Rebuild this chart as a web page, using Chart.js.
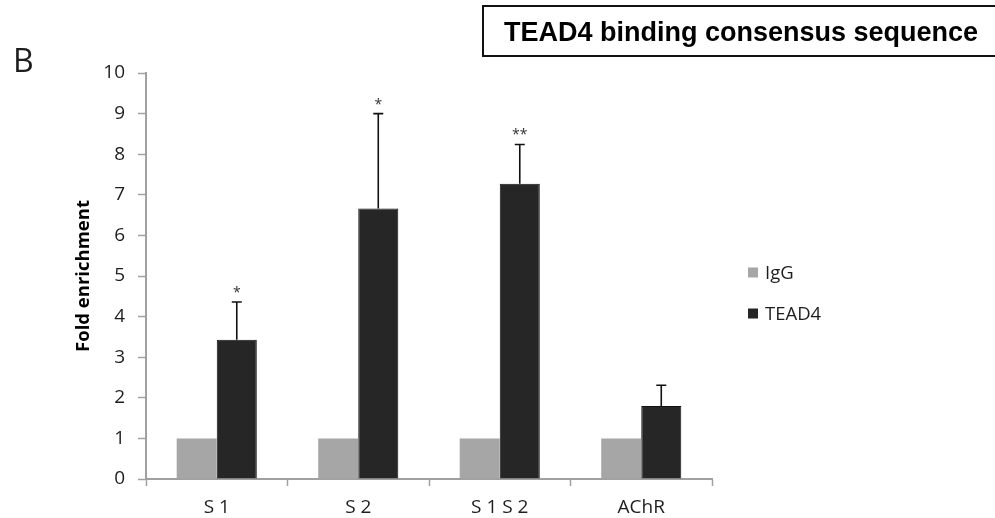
<!DOCTYPE html>
<html>
<head>
<meta charset="utf-8">
<script src="https://cdn.jsdelivr.net/npm/chart.js@4.4.1/dist/chart.umd.min.js"></script>
<style>
  html, body { margin: 0; padding: 0; background: #fff; }
  canvas { display: block; }
</style>
</head>
<body>
<canvas id="chipChart" width="995" height="518"></canvas>
<script>
// data
var categories = ['S 1', 'S 2', 'S 1 S 2', 'AChR'];
var seriesNames = ['IgG', 'TEAD4'];
var iggValues = [1, 1, 1, 1];
var tead4Values = [3.43, 6.66, 7.27, 1.80];
var tead4Errors = [0.93, 2.34, 0.97, 0.51];
var significance = ['*', '*', '**', ''];
var yTicks = [0, 1, 2, 3, 4, 5, 6, 7, 8, 9, 10];

var tickFont = '"Open Sans", "DejaVu Sans", sans-serif';
var axisGrey = '#a0a0a0';
var textColor = '#1e1e1e';

// error bars + stars above the TEAD4 bars
var errorBarPlugin = {
    id: 'errorBars',
    afterDatasetsDraw: function(chart) {
        var ctx = chart.ctx;
        var meta = chart.getDatasetMeta(1);
        var y = chart.scales.y;
        ctx.save();
        ctx.strokeStyle = '#111';
        ctx.lineWidth = 1.6;
        for (var i = 0; i < meta.data.length; i++) {
            var bar = meta.data[i];
            var top = y.getPixelForValue(tead4Values[i] + tead4Errors[i]);
            ctx.beginPath();
            ctx.moveTo(bar.x, bar.y);
            ctx.lineTo(bar.x, top);
            ctx.moveTo(bar.x - 5, top);
            ctx.lineTo(bar.x + 5, top);
            ctx.stroke();
            if (significance[i]) {
                ctx.fillStyle = '#333';
                ctx.font = '14px ' + tickFont;
                ctx.textAlign = 'center';
                ctx.textBaseline = 'alphabetic';
                ctx.fillText(significance[i], bar.x, top - 5);
            }
        }
        ctx.restore();
    }
};

// panel letter, boxed heading and the legend on the right
var decorPlugin = {
    id: 'decor',
    afterDraw: function(chart) {
        var ctx = chart.ctx;
        ctx.save();
        ctx.fillStyle = textColor;
        ctx.font = '32px ' + tickFont;
        ctx.textAlign = 'left';
        ctx.textBaseline = 'alphabetic';
        ctx.fillText('B', 13, 72);

        ctx.strokeStyle = '#111';
        ctx.lineWidth = 2;
        ctx.strokeRect(483, 6, 530, 50);
        ctx.fillStyle = '#000';
        ctx.font = 'bold 27px "Liberation Sans", Arial, sans-serif';
        ctx.fillText('TEAD4 binding consensus sequence', 504, 41);

        var ds = chart.data.datasets;
        ctx.font = '18.5px ' + tickFont;
        ctx.textBaseline = 'middle';
        for (var i = 0; i < ds.length; i++) {
            var cy = 272.5 + i * 41;
            ctx.fillStyle = ds[i].backgroundColor;
            ctx.fillRect(748, cy - 5, 10, 10);
            ctx.fillStyle = textColor;
            ctx.fillText(ds[i].label, 765, cy + 1);
        }
        ctx.restore();
    }
};

var ctx = document.getElementById('chipChart').getContext('2d');
var chipChart = new Chart(ctx, {
    type: 'bar',
    data: {
        labels: categories,
        datasets: [{
            label: seriesNames[0],
            data: iggValues,
            backgroundColor: '#a6a6a6',
            borderWidth: 0
        }, {
            label: seriesNames[1],
            data: tead4Values,
            backgroundColor: '#262626',
            borderColor: '#111',
            borderWidth: 1
        }]
    },
    options: {
        responsive: false,
        animation: false,
        layout: {
            padding: { left: 70, top: 73, right: 283, bottom: 0 }
        },
        datasets: {
            bar: { categoryPercentage: 0.566, barPercentage: 1.0 }
        },
        plugins: {
            legend: { display: false },
            tooltip: { enabled: false }
        },
        scales: {
            x: {
                grid: {
                    offset: true,
                    drawOnChartArea: false,
                    drawTicks: true,
                    tickLength: 7,
                    tickColor: axisGrey,
                    tickWidth: 1.5
                },
                border: { color: axisGrey, width: 2 },
                ticks: {
                    color: textColor,
                    font: { family: tickFont, size: 19 },
                    padding: 10,
                    maxRotation: 0
                },
                afterFit: function(scale) { scale.height = 39; }
            },
            y: {
                min: 0,
                max: 10,
                afterBuildTicks: function(scale) {
                    scale.ticks = yTicks.map(function(v) { return { value: v }; });
                },
                grid: {
                    drawOnChartArea: false,
                    drawTicks: true,
                    tickLength: 8,
                    tickColor: axisGrey,
                    tickWidth: 1.5
                },
                border: { color: axisGrey, width: 2 },
                ticks: {
                    color: textColor,
                    font: { family: tickFont, size: 19 },
                    padding: 13
                },
                title: {
                    display: true,
                    text: 'Fold enrichment',
                    color: '#000',
                    font: { family: tickFont, size: 18.5, weight: 'bold' },
                    padding: 2.5
                },
                afterFit: function(scale) { scale.width = 76; }
            }
        }
    },
    plugins: [errorBarPlugin, decorPlugin]
});
</script>
</body>
</html>
